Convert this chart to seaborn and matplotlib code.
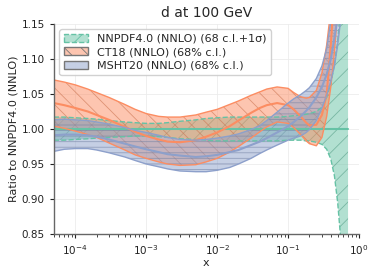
import numpy as np
import pandas as pd
import matplotlib
matplotlib.use('Agg')
import matplotlib.pyplot as plt
import matplotlib.patches as mpatches
import seaborn as sns

# x values (log-spaced readings)
x_grid = [5e-5, 7e-5, 1e-4, 1.5e-4, 2e-4, 3e-4, 5e-4, 7e-4, 1e-3, 1.5e-3, 2e-3, 3e-3,
          5e-3, 7e-3, 1e-2, 1.5e-2, 2e-2, 3e-2, 4e-2, 5e-2, 7e-2, 0.1, 0.12, 0.15,
          0.18, 0.2, 0.25, 0.3, 0.35, 0.4, 0.45, 0.5, 0.55, 0.6, 0.65, 0.7]

# NNPDF4.0 band (central = 1 by construction)
nn_hi = [1.017, 1.017, 1.016, 1.015, 1.014, 1.012, 1.010, 1.009, 1.008, 1.008, 1.009, 1.011,
         1.013, 1.015, 1.016, 1.017, 1.017, 1.017, 1.017, 1.017, 1.017, 1.018, 1.019, 1.020,
         1.021, 1.022, 1.025, 1.031, 1.045, 1.065, 1.092, 1.125, 1.170, 1.250, 1.400, 1.700]
nn_lo = [0.984, 0.984, 0.985, 0.986, 0.987, 0.988, 0.989, 0.990, 0.990, 0.989, 0.988, 0.986,
         0.985, 0.984, 0.983, 0.983, 0.983, 0.983, 0.983, 0.983, 0.983, 0.984, 0.984, 0.984,
         0.983, 0.983, 0.981, 0.978, 0.971, 0.957, 0.933, 0.895, 0.845, 0.770, 0.670, 0.550]
nn_c = [1.0] * len(nn_hi)

# CT18
ct_c = [1.037, 1.034, 1.030, 1.025, 1.020, 1.013, 1.003, 0.996, 0.990, 0.985, 0.982, 0.981,
        0.984, 0.989, 0.995, 1.004, 1.012, 1.023, 1.030, 1.034, 1.037, 1.034, 1.028, 1.018,
        1.009, 1.005, 1.006, 1.020, 1.050, 1.120, 1.200, 1.280]
ct_hi = [1.070, 1.067, 1.063, 1.057, 1.052, 1.045, 1.035, 1.028, 1.022, 1.018, 1.017, 1.017,
         1.020, 1.024, 1.028, 1.035, 1.040, 1.048, 1.053, 1.057, 1.060, 1.058, 1.052, 1.046,
         1.044, 1.045, 1.055, 1.080, 1.120, 1.170, 1.230, 1.300]
ct_lo = [1.004, 1.001, 0.997, 0.992, 0.988, 0.980, 0.970, 0.963, 0.958, 0.953, 0.950, 0.948,
         0.949, 0.953, 0.958, 0.967, 0.975, 0.987, 0.996, 1.003, 1.010, 1.008, 1.002, 0.992,
         0.983, 0.979, 0.976, 0.988, 1.018, 1.060, 1.110, 1.170]

# MSHT20
ms_c = [0.991, 0.992, 0.992, 0.991, 0.989, 0.985, 0.979, 0.975, 0.971, 0.967, 0.964, 0.962,
        0.960, 0.961, 0.963, 0.967, 0.970, 0.977, 0.982, 0.987, 0.995, 1.004, 1.010, 1.018,
        1.026, 1.031, 1.045, 1.060, 1.078, 1.100, 1.130, 1.160, 1.200, 1.250]
ms_hi = [1.013, 1.014, 1.013, 1.012, 1.010, 1.007, 1.002, 0.998, 0.995, 0.991, 0.988, 0.985,
         0.984, 0.985, 0.987, 0.990, 0.993, 0.999, 1.005, 1.012, 1.024, 1.037, 1.043, 1.049,
         1.055, 1.059, 1.072, 1.090, 1.115, 1.155, 1.200, 1.260, 1.320, 1.400]
ms_lo = [0.968, 0.971, 0.972, 0.972, 0.970, 0.966, 0.960, 0.955, 0.950, 0.946, 0.943, 0.940,
         0.939, 0.939, 0.941, 0.945, 0.950, 0.958, 0.965, 0.970, 0.977, 0.984, 0.987, 0.990,
         0.995, 0.999, 1.012, 1.030, 1.048, 1.068, 1.090, 1.120, 1.155, 1.200]

labels = ['NNPDF4.0 (NNLO) (68 c.l.+1σ)', 'CT18 (NNLO) (68% c.l.)', 'MSHT20 (NNLO) (68% c.l.)']

sns.set_theme(style='ticks')
plt.rcParams['font.family'] = ['DejaVu Sans']
plt.rcParams['hatch.linewidth'] = 0.6
pal = sns.color_palette('Set2', 3)
dark = [tuple(0.8 * v for v in c) for c in pal]

fig = plt.figure(figsize=(3.74, 2.75), dpi=100)
ax = fig.add_axes([0.144, 0.149, 0.816, 0.764])

bands = [
    (nn_lo, nn_hi, nn_c, pal[0], dark[0], '//', '--'),
    (ct_lo, ct_hi, ct_c, pal[1], dark[1], '\\\\', '-'),
    (ms_lo, ms_hi, ms_c, pal[2], dark[2], '---', '-'),
]

for lo, hi, c, col, hcol, h, ls in bands:
    xs = x_grid[:len(c)]
    ax.fill_between(xs, lo, hi, facecolor=(*col, 0.5), edgecolor=(*hcol, 0.6), hatch=h, linewidth=0)
    ax.plot(xs, lo, color=col, ls=ls, lw=1.0)
    ax.plot(xs, hi, color=col, ls=ls, lw=1.0)
    df = pd.DataFrame({'x': xs, 'y': c})
    sns.lineplot(data=df, x='x', y='y', ax=ax, color=col, lw=1.5)

ax.set_xscale('log')
ax.set_xlim(5e-5, 1.0)
ax.set_ylim(0.85, 1.15)
ax.set_yticks(np.arange(0.85, 1.151, 0.05))
ax.yaxis.set_major_formatter(matplotlib.ticker.FormatStrFormatter('%.2f'))
ax.grid(True, color='#ececec', lw=0.6)
ax.tick_params(labelsize=7.5, length=3, width=0.8, colors='#222222')
ax.tick_params(which='minor', length=1.8, width=0.6)
for s in ['left', 'bottom']:
    ax.spines[s].set_color('#666666')
    ax.spines[s].set_linewidth(1.0)
sns.despine(ax=ax)

ax.set_title('d at 100 GeV', fontsize=10, pad=5)
ax.set_xlabel('x', fontsize=8, labelpad=1)
ax.set_ylabel('Ratio to NNPDF4.0 (NNLO)', fontsize=8, labelpad=2)

handles = [
    mpatches.Patch(facecolor=(*pal[0], 0.5), edgecolor=pal[0], hatch='//', ls='--', lw=1.0),
    mpatches.Patch(facecolor=(*pal[1], 0.5), edgecolor='#777777', hatch='\\\\', lw=1.0),
    mpatches.Patch(facecolor=(*pal[2], 0.5), edgecolor='#777777', lw=1.0),
]
ax.legend(handles, labels, loc='upper left', fontsize=8, handlelength=2.2,
          borderpad=0.4, labelspacing=0.3, handletextpad=0.8, framealpha=0.9,
          bbox_to_anchor=(0.0, 1.0))

fig.savefig('out.png', dpi=100)
